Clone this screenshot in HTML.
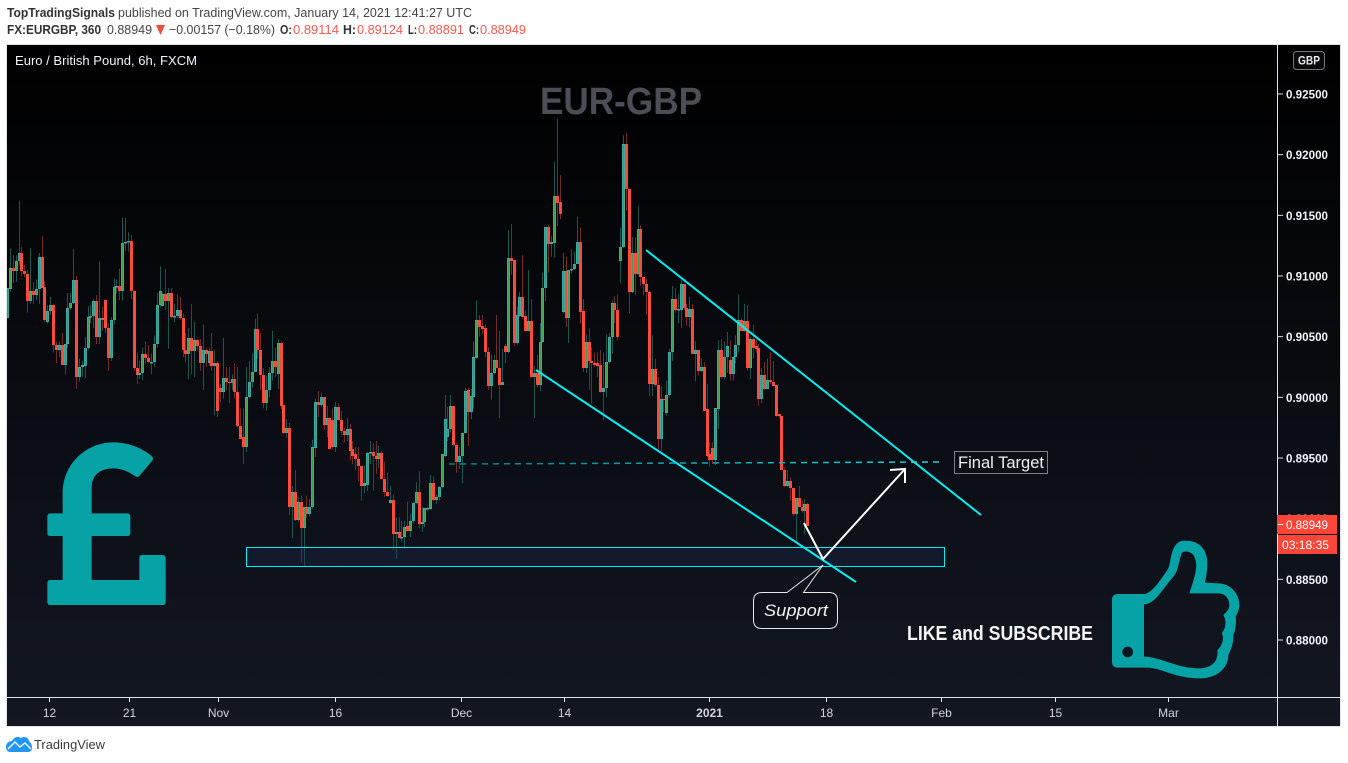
<!DOCTYPE html>
<html lang="en">
<head>
<meta charset="utf-8">
<title>EUR-GBP chart</title>
<style>
html,body{margin:0;padding:0;background:#fff;width:1348px;height:763px;overflow:hidden}
svg{display:block}
text{font-family:"Liberation Sans",sans-serif}
</style>
</head>
<body>
<svg id="root" xmlns="http://www.w3.org/2000/svg" width="1348" height="763" viewBox="0 0 1348 763">
  <defs>
    <linearGradient id="paneBg" x1="0" y1="0" x2="0" y2="1">
      <stop offset="0" stop-color="#000000"/>
      <stop offset="1" stop-color="#131722"/>
    </linearGradient>
    <linearGradient id="dashFade" gradientUnits="userSpaceOnUse" x1="449" y1="0" x2="940" y2="0">
      <stop offset="0" stop-color="#087c84"/>
      <stop offset="1" stop-color="#10d8e0"/>
    </linearGradient>
  </defs>

  <rect x="0" y="0" width="1348" height="763" fill="#ffffff"/>

  <g font-size="13">
    <text x="7" y="17" font-weight="bold" fill="#333" textLength="108" lengthAdjust="spacingAndGlyphs">TopTradingSignals</text>
    <text x="118" y="17" fill="#444" textLength="354" lengthAdjust="spacingAndGlyphs">published on TradingView.com, January 14, 2021 12:41:27 UTC</text>
    <text x="7" y="34" font-weight="bold" fill="#333" textLength="94" lengthAdjust="spacingAndGlyphs">FX:EURGBP, 360</text>
    <text x="107" y="34" fill="#444" textLength="45" lengthAdjust="spacingAndGlyphs">0.88949</text>
    <polygon points="156,25 165,25 160.5,35" fill="#f44b3e"/>
    <text x="169" y="34" fill="#444" textLength="106" lengthAdjust="spacingAndGlyphs">−0.00157 (−0.18%)</text>
    <text x="280" y="34" font-weight="bold" fill="#333" textLength="12" lengthAdjust="spacingAndGlyphs">O:</text>
    <text x="293" y="34" fill="#f55a50" textLength="46" lengthAdjust="spacingAndGlyphs">0.89114</text>
    <text x="343" y="34" font-weight="bold" fill="#333" textLength="13" lengthAdjust="spacingAndGlyphs">H:</text>
    <text x="357" y="34" fill="#f55a50" textLength="46" lengthAdjust="spacingAndGlyphs">0.89124</text>
    <text x="408" y="34" font-weight="bold" fill="#333" textLength="9" lengthAdjust="spacingAndGlyphs">L:</text>
    <text x="418" y="34" fill="#f55a50" textLength="46" lengthAdjust="spacingAndGlyphs">0.88891</text>
    <text x="469" y="34" font-weight="bold" fill="#333" textLength="10" lengthAdjust="spacingAndGlyphs">C:</text>
    <text x="480" y="34" fill="#f55a50" textLength="46" lengthAdjust="spacingAndGlyphs">0.88949</text>
  </g>

  <rect x="6.5" y="44.5" width="1334" height="682" fill="url(#paneBg)" stroke="#e0e3eb" stroke-width="1"/>

  <clipPath id="paneClip"><rect x="7" y="45" width="1271" height="652"/></clipPath>
  <g id="candles" clip-path="url(#paneClip)"></g>

  <text x="15" y="65" font-size="13" fill="#f0f3fa" textLength="182" lengthAdjust="spacingAndGlyphs">Euro / British Pound, 6h, FXCM</text>
  <text x="540" y="114" font-size="38" font-weight="bold" fill="#4b4d57" textLength="162" lengthAdjust="spacingAndGlyphs">EUR-GBP</text>

  <g>
    <rect x="246.5" y="547.5" width="698" height="19" fill="rgba(33,52,96,.28)" stroke="#00eef2" stroke-width="1"/>
    <line x1="449" y1="464" x2="940" y2="462" stroke="url(#dashFade)" stroke-width="1.5" stroke-dasharray="6 5"/>
    <line x1="646" y1="250" x2="981" y2="515" stroke="#00eef2" stroke-width="2"/>
    <line x1="536" y1="370" x2="856" y2="582" stroke="#00eef2" stroke-width="2"/>
    <path d="M804,523 L823,559 L905,469 M890,470 L905,469 L905,483" fill="none" stroke="#ffffff" stroke-width="2"/>
    <path d="M787,592.5 L823,565 L803.5,592.5 L829,592.5 Q837.5,592.5 837.5,601 L837.5,620 Q837.5,628.5 829,628.5 L762,628.5 Q753.5,628.5 753.5,620 L753.5,601 Q753.5,592.5 762,592.5 Z" fill="#0e1119" stroke="#e8e8e8" stroke-width="1"/>
    <text x="764" y="616" font-size="17" font-style="italic" fill="#f0f0f0" textLength="64" lengthAdjust="spacingAndGlyphs">Support</text>
    <rect x="954.5" y="451.5" width="93" height="22" fill="#0c0f16" stroke="#79808a" stroke-width="1"/>
    <text x="958" y="468" font-size="16.5" fill="#f0f0f0" textLength="86" lengthAdjust="spacingAndGlyphs">Final Target</text>
    <text x="907" y="640" font-size="20" font-weight="bold" fill="#f4f4f4" textLength="186" lengthAdjust="spacingAndGlyphs">LIKE and SUBSCRIBE</text>
  </g>

  <g transform="translate(20,430) scale(0.33333)">
    <path fill="#07a2a6" d="M128,250 L128,190 C128,100 200,37 280,37 C330,37 370,58 395,78 Q402,85 396,93 L358,138 Q352,144 345,138 C325,125 305,115 280,115 C240,115 215,135 215,175 L215,250 L322,250 Q331,250 331,259 L331,309 Q331,318 322,318 L215,318 L215,450 L358,450 L358,384 Q358,375 367,375 L428,375 Q437,375 437,384 L437,516 Q437,525 428,525 L91,525 Q82,525 82,516 L82,459 Q82,450 91,450 L128,450 L128,318 L91,318 Q82,318 82,309 L82,259 Q82,250 91,250 Z"/>
  </g>

  <g transform="translate(1090,500) scale(0.33333)">
    <path fill="#07a2a6" fill-rule="evenodd" d="M66,300 Q66,282 84,282 L165,282 C190,275 215,235 235,205 C245,185 240,122 285,122 C330,122 352,150 352,190 C352,215 345,248 345,248 L385,250 C420,250 448,280 448,315 C448,330 440,345 437,350 C440,370 435,395 430,405 C432,430 420,455 415,465 C415,505 380,535 330,535 C250,535 210,500 165,503 L84,503 Q66,503 66,485 Z
    M162,313 C195,313 215,270 250,230 C265,215 268,175 275,160 C280,152 300,152 310,165 C325,190 320,215 298,280 L385,280 C405,280 418,295 418,315 C418,330 405,340 400,345 C410,360 408,385 395,400 C405,415 395,440 382,450 C385,475 375,505 325,505 C260,505 210,470 162,470 Z
    M97,456 a16,16 0 1,0 32,0 a16,16 0 1,0 -32,0 Z"/>
  </g>

  <line x1="1277.5" y1="45" x2="1277.5" y2="726" stroke="#e0e3eb" stroke-width="1"/>
  <line x1="7" y1="697.5" x2="1340" y2="697.5" stroke="#e0e3eb" stroke-width="1"/>
  <g id="priceAxis"></g>
  <g id="timeAxis"></g>

  <rect x="1293.5" y="51.5" width="31" height="18" rx="3" fill="#0a0a0c" stroke="#777" stroke-width="1"/>
  <text x="1298" y="64.5" font-size="11.5" font-weight="bold" fill="#e8e8e8" textLength="22" lengthAdjust="spacingAndGlyphs">GBP</text>

  <g>
    <rect x="1277" y="515" width="60" height="19" fill="#fa4638"/>
    <line x1="1278" y1="524.5" x2="1283" y2="524.5" stroke="#ffffff" stroke-width="1"/>
    <text x="1286" y="529" font-size="12" fill="#ffffff" textLength="42" lengthAdjust="spacingAndGlyphs">0.88949</text>
    <rect x="1278" y="535" width="59" height="19" fill="#fa4638"/>
    <text x="1282" y="549" font-size="12" fill="#ffffff" textLength="47" lengthAdjust="spacingAndGlyphs">03:18:35</text>
  </g>

  <g>
    <path fill="#2196f3" d="M6,747 C6,743 9,741 12,741 C14,737 18,736 21,738 C24,736 28,737 29,741 C31,743 32,745 32,748 C32,751 30,752 28,752 L10,752 C8,752 6,750 6,747 Z"/>
    <path fill="none" stroke="#ffffff" stroke-width="1.3" d="M8,749 L15,742 L20,747 L25,743 L31,749"/>
    <text x="34" y="749" font-size="13" fill="#3a3a3a" textLength="71" lengthAdjust="spacingAndGlyphs">TradingView</text>
  </g>
</svg>

<script>
// Candle values, in pips (price x 10000).
const opens = [
9065,9089,9107,9104,9112,9119,9104,9102,9079,9088,
9084,9089,9116,9091,9062,9071,9076,9043,9039,9043,
9027,9044,9074,9078,9097,9017,9025,9026,9041,9066,
9067,9079,9050,9065,9080,9057,9032,9064,9091,9092,
9088,9127,9128,9129,9088,9024,9018,9020,9036,9032,
9029,9029,9044,9076,9075,9085,9079,9086,9066,9067,
9072,9065,9039,9036,9049,9038,9047,9042,9028,9039,
9028,9038,9026,9028,9008,9004,9016,9013,9012,9015,
9004,8976,8967,8959,9000,9013,9021,9056,9039,9018,
8995,9006,9020,
9030,9019,9045,8994,8971,8975,8910,8922,8899,8914,
8892,8910,8904,8910,8958,8996,8994,9000,8977,8983,
8981,8959,8992,8981,8972,8969,8974,8957,8953,8949,
8943,8927,8928,8954,8955,8952,8949,8954,8933,8922,
8913,8915,8887,8889,8884,8885,8894,8890,8898,8913,
8922,8896,8897,8908,8908,8929,8915,8918,8926,8952,
8967,8974,8993,8961,8947,8952,8971,9006,8988,9000,
9032,9064,9059,9057,9037,9009,9020,9031,9024,9010,
9042,9037,9115,9113,9045,9067,9083,9067,9055,9063,
9017,9020,9010,9046,9090,9140,9126,9127,9166,9161,
9070,9104,9065,9105,9106,9110,9128,9071,9024,9046,
9030,9028,9028,9027,9004,9008,9029,9050,9078,9072,
9112,9124,9209,9172,9087,9119,9102,9139,9099,9093,
9087,9011,9023,9010,8966,8999,8987,9002,9037,9081,
9072,9072,9093,9074,
9066,9073,9036,9039,9022,9025,8990,8953,8958,8948,
8990,9039,9017,9033,9031,9019,9033,9043,9064,9055,
9063,9024,9048,9042,9041,8999,9018,9007,9014,9013,
9010,8986,8985,8940,8927,8931,8925,8904,8917,8910,
8906,8912];

const highs = [
9090,9123,9117,9117,9162,9124,9109,9105,9123,9095,
9097,9119,9133,9096,9076,9083,9077,9046,9046,9053,
9044,9086,9086,9122,9100,9032,9030,9050,9075,9076,
9081,9084,9112,9075,9081,9061,9066,9098,9097,9106,
9148,9148,9136,9134,9088,9037,9030,9041,9046,9043,
9036,9051,9086,9108,9086,9106,9090,9090,9077,9085,
9083,9069,9053,9057,9077,9062,9048,9048,9060,9041,
9041,9053,9039,9030,9011,9049,9025,9025,9019,9028,
9025,8991,8991,9025,9030,9036,9065,9069,9053,9024,
9018,9025,9055,
9041,9048,9046,8994,8982,8979,8927,8940,8918,8919,
8910,8919,8916,8965,8999,9005,9004,9000,8993,8984,
8991,8996,8995,8989,8975,8983,8978,8964,8959,8959,
8944,8944,8955,8964,8962,8964,8960,8956,8947,8938,
8927,8920,8901,8901,8898,8898,8914,8904,8914,8930,
8939,8910,8909,8910,8936,8935,8920,8927,8953,9002,
8992,9002,8993,8962,8959,8971,9008,9008,9007,9046,
9080,9068,9068,9060,9041,9035,9035,9068,9055,9040,
9044,9138,9143,9113,9075,9087,9117,9072,9105,9081,
9026,9035,9061,9103,9140,9142,9133,9194,9230,9183,
9119,9116,9105,9122,9120,9149,9140,9081,9052,9057,
9041,9037,9037,9039,9037,9052,9053,9080,9083,9085,
9140,9216,9218,9172,9132,9132,9158,9142,9099,9098,
9088,9051,9032,9017,9009,8999,9014,9040,9092,9090,
9085,9097,9093,9077,
9083,9077,9046,9039,9032,9029,9011,8963,8963,8991,
9047,9048,9046,9054,9047,9034,9051,9085,9065,9077,
9076,9050,9060,9048,9044,9024,9029,9032,9037,9030,
9010,8986,8985,8942,8940,8934,8925,8917,8927,8915,
8916,8913];

const lows = [
9065,9087,9094,9095,9109,9100,9099,9070,9077,9077,
9080,9077,9090,9062,9061,9068,9037,9028,9033,9027,
9019,9041,9072,9077,9007,9013,9017,9016,9039,9061,
9057,9044,9044,9055,9053,9022,9030,9060,9086,9080,
9080,9121,9120,9081,9022,9011,9015,9014,9028,9028,
9019,9025,9041,9074,9075,9072,9040,9065,9062,9065,
9064,9033,9029,9015,9019,9017,9039,9022,9006,9025,
9026,9022,8985,8984,8996,8999,9006,8995,9006,8999,
8975,8966,8945,8955,8999,9008,9021,9032,9006,8991,
8989,9000,9014,
9017,9007,8990,8970,8967,8903,8884,8898,8897,8864,
8861,8901,8902,8908,8951,8984,8992,8973,8967,8957,
8957,8955,8981,8969,8963,8964,8948,8945,8940,8931,
8915,8921,8923,8945,8923,8937,8942,8933,8918,8918,
8912,8874,8867,8884,8881,8875,8890,8885,8896,8912,
8892,8889,8893,8906,8907,8914,8912,8915,8925,8951,
8964,8971,8959,8938,8941,8929,8970,8960,8982,8991,
9032,9050,9052,9033,9006,8998,9019,9024,8983,9010,
9028,9036,9101,9042,9043,9066,9065,9054,9054,9016,
8983,9008,9005,9045,9079,9103,9116,9115,9141,9147,
9069,9058,9045,9102,9105,9110,9061,9021,9020,9006,
8995,9025,9017,9004,8981,9000,9028,9036,9061,9047,
9094,9123,9154,9069,9086,9084,9101,9092,9084,9068,
9001,9001,9009,8957,8956,8988,8985,9000,9030,9070,
9061,9057,9072,9059,
9058,9036,9013,9018,9021,8989,8951,8943,8945,8944,
8974,9015,9015,9020,9014,9014,9028,9037,9055,9054,
9022,9015,9032,9037,8993,8995,9006,9007,9011,9009,
8984,8983,8940,8926,8926,8915,8902,8882,8910,8905,
8887,8894];

const closes = [
9090,9107,9104,9112,9119,9104,9102,9079,9088,9084,
9089,9116,9090,9064,9071,9076,9043,9039,9043,9027,
9044,9074,9078,9097,9017,9025,9027,9041,9066,9067,
9079,9050,9065,9064,9057,9032,9064,9091,9092,9088,
9127,9128,9129,9088,9024,9018,9020,9036,9032,9029,
9029,9044,9076,9088,9085,9079,9086,9066,9067,9072,
9065,9039,9036,9049,9038,9047,9042,9028,9039,9036,
9038,9026,9028,8989,9004,9016,9013,9012,9015,9004,
8976,8966,8959,9000,9013,9021,9056,9039,9018,8995,
9006,9020,9030,
9025,9045,8993,8971,8975,8910,8922,8899,8914,8892,
8910,8904,8910,8959,8996,8994,9000,8977,8983,8957,
8959,8992,8981,8972,8969,8974,8956,8952,8949,8943,
8927,8929,8954,8955,8952,8949,8954,8933,8922,8919,
8915,8887,8889,8884,8885,8893,8890,8898,8913,8922,
8896,8897,8909,8909,8929,8915,8918,8926,8953,8982,
8974,8993,8961,8947,8952,8971,9005,8988,9001,9033,
9064,9058,9056,9037,9009,9020,9031,9024,9010,9013,
9037,9115,9112,9045,9068,9083,9066,9055,9063,9017,
9020,9010,9046,9090,9140,9126,9128,9166,9160,9151,
9104,9065,9105,9106,9110,9128,9070,9024,9046,9030,
9028,9027,9026,9004,9008,9029,9050,9078,9072,9050,
9124,9209,9172,9087,9119,9102,9139,9099,9093,9087,
9011,9023,9010,8966,8999,8998,9002,9037,9081,9072,
9073,9093,9074,9066,
9073,9036,9039,9022,9025,8989,8952,8948,8948,8991,
9039,9017,9033,9042,9019,9033,9043,9064,9055,9063,
9024,9048,9041,9040,8999,9018,9007,9014,9013,9009,
8985,8985,8940,8927,8931,8925,8904,8917,8910,8906,
8912,8894];

// Axis values
const priceTicks = [0.925,0.92,0.915,0.91,0.905,0.9,0.895,0.89,0.885,0.88];
const timeLabels = ['12','21','Nov','16','Dec','14','2021','18','Feb','15','Mar'];
const timeBars = [14.5,42.5,73.3,114,157.7,193.5,244,284.5,324.5,364,403.3];

const SVG_NS = 'http://www.w3.org/2000/svg';
function xScale(bar){ return 7 + bar * 2.879; }
function yScale(price){ return 94 + (0.925 - price) * 12133; }
function pips(p){ return yScale(p / 10000); }

function make(tag, attrs, parent){
  const el = document.createElementNS(SVG_NS, tag);
  for (const k in attrs) el.setAttribute(k, attrs[k]);
  parent.appendChild(el);
  return el;
}

const candleLayer = document.getElementById('candles');
const barCount = Math.min(opens.length, highs.length, lows.length, closes.length);

// wicks first, so every body sits on top
for (let i = 0; i < barCount; i++) {
  const up = closes[i] >= opens[i];
  const cx = Math.round(xScale(i)) + 0.5;
  const wick = make('line', {x1: cx, x2: cx, y1: pips(highs[i]), y2: pips(lows[i]),
    stroke: up ? '#1d5550' : '#702b2a', 'stroke-width': 1}, candleLayer);
  
  
}
for (let i = 0; i < barCount; i++) {
  const up = closes[i] >= opens[i];
  const px = Math.round(xScale(i));
  const top = Math.round(pips(Math.max(opens[i], closes[i])));
  const bot = Math.round(pips(Math.min(opens[i], closes[i])));
  const h = Math.max(bot - top, 1);
  const body = up
    ? make('rect', {x: px - 0.5, y: top + 0.5, width: 2, height: Math.max(h - 1, 0.5),
        fill: '#3f9a52', stroke: '#3fa99c', 'stroke-width': 1}, candleLayer)
    : make('rect', {x: px - 1, y: top, width: 3, height: h, fill: '#fb4a3e'}, candleLayer);
  
  
}

const priceAxis = document.getElementById('priceAxis');
priceTicks.forEach(function(tick){
  const y = yScale(tick);
  const mark = make('line', {x1: 1278, x2: 1283, y1: y, y2: y, stroke: '#e0e3eb', 'stroke-width': 1}, priceAxis);
  
  
  const label = make('text', {x: 1286, y: y + 4.5, 'font-size': 12, 'font-weight': 'bold', fill: '#f0f3fa',
    textLength: 42, lengthAdjust: 'spacingAndGlyphs'}, priceAxis);
  label.textContent = tick.toFixed(5);
  
  
});

const timeAxis = document.getElementById('timeAxis');
timeLabels.forEach(function(name, i){
  const x = Math.round(xScale(timeBars[i])) + 0.5;
  const mark = make('line', {x1: x, x2: x, y1: 698, y2: 702, stroke: '#e0e3eb', 'stroke-width': 1}, timeAxis);
  
  
  const label = make('text', {x: x, y: 717, 'font-size': 12, 'text-anchor': 'middle', fill: '#d1d4dc'}, timeAxis);
  if (name === '2021') label.setAttribute('font-weight', 'bold');
  label.textContent = name;
  
  
});
</script>
</body>
</html>
